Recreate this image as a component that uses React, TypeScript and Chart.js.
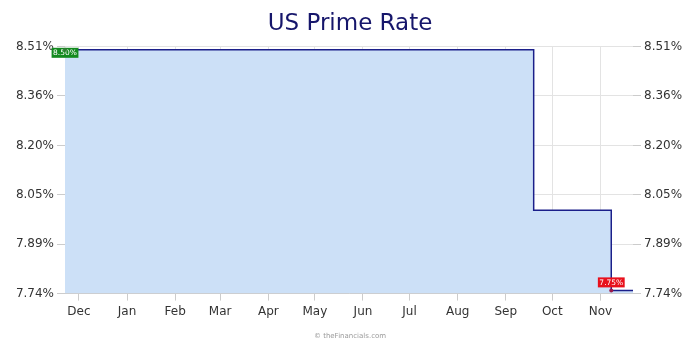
import React, { useEffect, useRef } from "react";
import { Chart, registerables } from "chart.js";

Chart.register(...registerables);

const TITLE = "US Prime Rate";
const WATERMARK = "© theFinancials.com";
const RANGE_START = "2023-11-22";
const RANGE_END = "2024-11-22";
const CHANGE_DATES = ["2023-11-22", "2024-09-19", "2024-11-08", "2024-11-22"];
const RATES = [8.5, 8.0, 7.75, 7.75];
const MONTH_TICKS = [
  "2023-12-01", "2024-01-01", "2024-02-01", "2024-03-01", "2024-04-01", "2024-05-01",
  "2024-06-01", "2024-07-01", "2024-08-01", "2024-09-01", "2024-10-01", "2024-11-01",
];
const MONTH_NAMES = ["Jan", "Feb", "Mar", "Apr", "May", "Jun", "Jul", "Aug", "Sep", "Oct", "Nov", "Dec"];
const Y_MIN = 7.74;
const Y_MAX = 8.51;
const Y_STEP = 0.154;
const START_LABEL = "8.50%";
const END_LABEL = "7.75%";

const dayNum = (s: string) => Date.parse(s + "T00:00:00Z") / 86400000;

const FONT = "'DejaVu Sans', Verdana, sans-serif";

export default function App() {
  const ref = useRef<HTMLCanvasElement | null>(null);
  useEffect(() => {
    if (!ref.current) return;
    const data = CHANGE_DATES.map((d, i) => ({ x: dayNum(d), y: RATES[i] }));
    const monthTickVals = MONTH_TICKS.map(dayNum);

    const markers = {
      id: "markers",
      afterDatasetsDraw(chart: any) {
        const ctx = chart.ctx;
        const xs = chart.scales.x;
        const ys = chart.scales.y;
        const drawTag = (cx: number, cy: number, text: string, bg: string, dot: string, px: number, py: number) => {
          ctx.save();
          ctx.font = "7.5px " + FONT;
          const w = ctx.measureText(text).width + 3;
          const h = 10;
          ctx.fillStyle = bg;
          ctx.fillRect(cx - w / 2, cy - h / 2, w, h);
          ctx.fillStyle = "#ffffff";
          ctx.textAlign = "center";
          ctx.textBaseline = "middle";
          ctx.fillText(text, cx, cy + 0.5);
          ctx.beginPath();
          ctx.arc(px, py, 2, 0, Math.PI * 2);
          ctx.fillStyle = dot;
          ctx.fill();
          ctx.restore();
        };
        const p0x = xs.getPixelForValue(data[0].x);
        const p0y = ys.getPixelForValue(data[0].y);
        drawTag(p0x, p0y + 3, START_LABEL, "#138a1f", "#2e7d32", p0x, p0y);
        const p2x = xs.getPixelForValue(data[2].x);
        const p2y = ys.getPixelForValue(data[2].y);
        drawTag(p2x, p2y - 8, END_LABEL, "#e8101c", "#9c1a4a", p2x, p2y);

        ctx.save();
        ctx.font = "7px " + FONT;
        ctx.fillStyle = "#9a9a9a";
        ctx.textAlign = "center";
        ctx.textBaseline = "middle";
        ctx.fillText(WATERMARK, 350, 336);
        ctx.restore();
      },
    };

    const yTicks = {
      color: "#333333",
      font: { family: FONT, size: 12 },
      padding: 3,
      callback: (v: any) => Number(v).toFixed(2) + "%",
    };

    const chart = new Chart(ref.current, {
      type: "line",
      data: {
        datasets: [
          {
            data,
            stepped: "before",
            borderColor: "#1b1f8a",
            borderWidth: 1.5,
            backgroundColor: "rgba(204,224,247,1)",
            fill: "start",
            pointRadius: 0,
          },
        ],
      },
      options: {
        animation: false,
        responsive: false,
        maintainAspectRatio: false,
        layout: { padding: { top: 10, bottom: 27, left: 0, right: 0 } },
        plugins: {
          legend: { display: false },
          tooltip: { enabled: false },
          title: {
            display: true,
            text: TITLE,
            color: "#16166b",
            font: { family: FONT, size: 23, weight: "normal" },
            padding: { top: 0, bottom: 9 },
          },
        },
        scales: {
          x: {
            type: "linear",
            min: dayNum(RANGE_START),
            max: dayNum(RANGE_END),
            afterBuildTicks: (scale: any) => {
              scale.ticks = monthTickVals.map((v) => ({ value: v }));
            },
            ticks: {
              autoSkip: false,
              maxRotation: 0,
              color: "#333333",
              font: { family: FONT, size: 12 },
              padding: 4,
              callback: (v: any) => MONTH_NAMES[new Date(Number(v) * 86400000).getUTCMonth()],
            },
            grid: { color: "#e3e3e3", tickLength: 7, tickColor: "#cccccc" },
            border: { color: "#cccccc" },
          },
          y: {
            type: "linear",
            position: "left",
            min: Y_MIN,
            max: Y_MAX,
            afterBuildTicks: (scale: any) => {
              const t = [];
              for (let i = 0; i <= 5; i++) t.push({ value: Y_MIN + Y_STEP * i });
              scale.ticks = t;
            },
            afterFit: (scale: any) => {
              scale.width = 65;
            },
            ticks: yTicks,
            grid: { color: "#e3e3e3", tickLength: 8, tickColor: "#cccccc" },
            border: { display: false },
          },
          y2: {
            type: "linear",
            position: "right",
            min: Y_MIN,
            max: Y_MAX,
            afterBuildTicks: (scale: any) => {
              const t = [];
              for (let i = 0; i <= 5; i++) t.push({ value: Y_MIN + Y_STEP * i });
              scale.ticks = t;
            },
            afterFit: (scale: any) => {
              scale.width = 67;
            },
            ticks: yTicks,
            grid: { drawOnChartArea: false, tickLength: 8, color: "#cccccc" },
            border: { display: false },
          },
        },
      } as any,
      plugins: [markers],
    });
    return () => chart.destroy();
  }, []);
  return (
    <div style={{ position: "fixed", left: 0, top: 0, width: 700, height: 350, background: "#ffffff" }}>
      <canvas ref={ref} width={700} height={350} style={{ width: 700, height: 350 }} />
    </div>
  );
}
